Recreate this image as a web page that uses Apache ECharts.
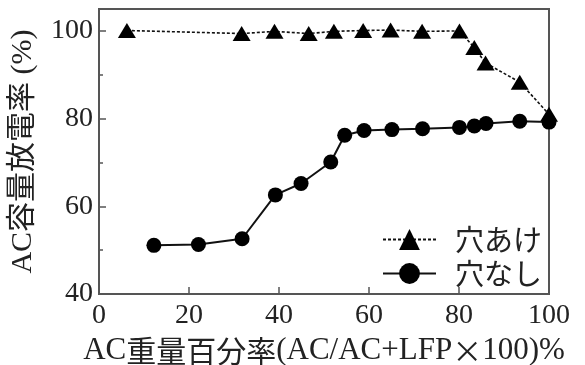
<!DOCTYPE html>
<html>
<head>
<meta charset="utf-8">
<script src="https://cdn.jsdelivr.net/npm/echarts@6/dist/echarts.min.js"></script>
<style>html,body{margin:0;padding:0;background:#fff}#c{width:585px;height:365px}</style>
</head>
<body>
<div id="c"></div>
<script>
var seriesNames = ['穴あけ', '穴なし'];
var holedX = [6.2, 31.7, 39, 46.6, 52.2, 58.7, 64.8, 71.8, 80.1, 83.4, 85.9, 93.5, 100];
var holedY = [100.1, 99.4, 99.9, 99.4, 99.9, 100.1, 100.2, 99.9, 100, 96.2, 92.7, 88.3, 81];
var plainX = [12.2, 22.1, 31.8, 39.2, 44.9, 51.5, 54.6, 58.9, 65.1, 71.9, 80.1, 83.4, 86, 93.5, 100];
var plainY = [51.1, 51.3, 52.6, 62.6, 65.2, 70.1, 76.2, 77.3, 77.5, 77.7, 78.0, 78.3, 78.9, 79.4, 79.2];
var xTicks = [0, 20, 40, 60, 80, 100];
var yTicks = [40, 60, 80, 100];
var yMinorTicks = [50, 70, 90];
var xTitle = '{l|AC}{c|重量百分率}{l|(AC/AC+LFP}{c|×}{l|100)%}';
var yTitle = 'AC容量放電率 (%)';

function zip(a, b) { return a.map(function (v, i) { return [v, b[i]]; }); }

var FONT = "'Liberation Serif', 'Noto Sans CJK JP', serif";
var CJK = "'Noto Sans CJK JP', sans-serif";
var AXC = '#555';
var chart = echarts.init(document.getElementById('c'), null, { renderer: 'canvas' });
chart.setOption({
  backgroundColor: '#fff',
  animation: false,
  grid: { left: 99, right: 36, top: 9, bottom: 71, show: true, borderColor: AXC, borderWidth: 2, containLabel: false, outerBoundsMode: 'none' },
  xAxis: {
    type: 'value', min: 0, max: 100, interval: 20,
    name: xTitle, nameLocation: 'middle', nameGap: 38,
    nameTextStyle: {
      fontFamily: FONT, fontSize: 31, color: '#222',
      rich: {
        l: { fontFamily: FONT, fontSize: 31, color: '#222' },
        c: { fontFamily: CJK, fontSize: 30, color: '#222' }
      }
    },
    axisLine: { show: true, lineStyle: { color: AXC, width: 2 } },
    axisTick: { show: true, inside: true, length: 7, lineStyle: { color: AXC, width: 1.5 }, customValues: xTicks },
    axisLabel: { fontFamily: FONT, fontSize: 28, color: '#222', margin: 8, customValues: xTicks },
    splitLine: { show: false }
  },
  yAxis: [{
    type: 'value', min: 40, max: 105,
    name: yTitle, nameLocation: 'middle', nameGap: 61, nameRotate: 90,
    nameTextStyle: { fontFamily: FONT, fontSize: 30, color: '#222' },
    axisLine: { show: true, lineStyle: { color: AXC, width: 2 } },
    axisTick: { show: true, inside: true, length: 7, lineStyle: { color: AXC, width: 1.5 }, customValues: yTicks },
    axisLabel: { fontFamily: FONT, fontSize: 28, color: '#222', margin: 6, customValues: yTicks },
    splitLine: { show: false }
  }, {
    type: 'value', min: 40, max: 105, position: 'left',
    axisLine: { show: false },
    axisTick: { show: true, inside: true, length: 4, lineStyle: { color: AXC, width: 1.5 }, customValues: yMinorTicks },
    axisLabel: { show: false },
    splitLine: { show: false }
  }],
  legend: {
    left: 377, top: 220, orient: 'vertical', itemWidth: 53, itemHeight: 26, itemGap: 5,
    textStyle: { fontFamily: CJK, fontSize: 29, color: '#222', padding: [0, 0, 0, 14] },
    data: seriesNames
  },
  series: [{
    name: seriesNames[0], type: 'line', data: zip(holedX, holedY),
    symbol: 'triangle', symbolSize: [18, 15],
    lineStyle: { color: '#111', width: 1.6, type: [3, 2] },
    itemStyle: { color: '#000' }, z: 2
  }, {
    name: seriesNames[1], type: 'line', data: zip(plainX, plainY),
    symbol: 'circle', symbolSize: 15,
    lineStyle: { color: '#111', width: 2 },
    itemStyle: { color: '#000' }, z: 3
  }]
});
</script>
</body>
</html>
